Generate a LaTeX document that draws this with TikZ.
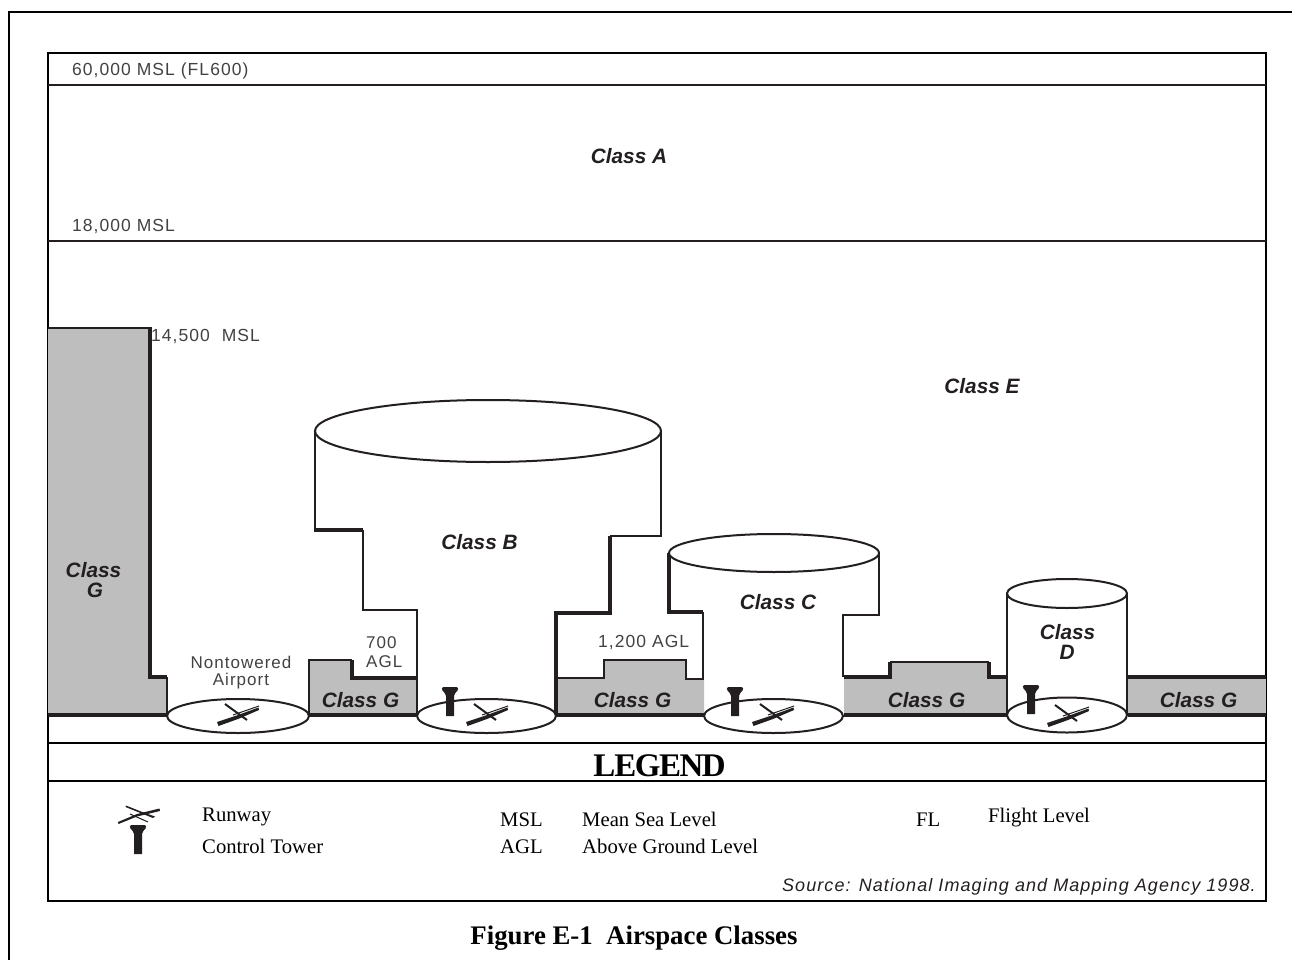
\documentclass[tikz,border=0pt]{standalone}
\usepackage{fontspec}
\setmainfont{Liberation Serif}
\newfontfamily\lab[LetterSpace=6]{Liberation Sans}
\newfontfamily\cls{Liberation Sans}
\newcommand{\fs}[1]{\fontsize{#1}{#1}\selectfont}
\definecolor{ink}{HTML}{231F20}
\definecolor{gfill}{HTML}{BEBEBE}
\tikzset{
  thin line/.style={draw=ink,line width=1.5pt},
  mid line/.style={draw=ink,line width=2pt,line join=miter},
  heavy line/.style={draw=ink,line width=3.4pt,line join=miter},
  ring/.style={draw=ink,line width=2pt,fill=white},
  frame line/.style={draw=black,line width=1.8pt},
  gzone/.style={fill=gfill},
  classlbl/.style={font=\cls\fs{20.8}\bfseries\itshape,text=ink,inner sep=0pt,align=center},
  alt/.style={font=\lab\fs{17.5},text=ink!85,inner sep=0pt,anchor=base west,align=center},
  smallalt/.style={alt,font=\lab\fs{17}},
  serif lbl/.style={font=\fs{20.7},text=black,inner sep=0pt,anchor=base west},
  pics/runway/.style={code={
    \fill[ink] (-21,6) -- (-19.5,10) -- (0,3) -- (21,-6) -- (20.5,-8.5) -- (0,-1) -- cycle;
    \draw[ink,line width=2pt] (-13,-12) -- (9,4);
    \draw[ink,line width=1pt] (-5,-1) -- (21,-10);
  }},
  pics/legendrunway/.style={code={
    \fill[ink] (-21,7) -- (-20.5,9) -- (-2,1.5) -- (21,-4) -- (20.5,-6.5) -- (-2,-1) -- cycle;
    \fill[ink] (-13,-9.5) -- (-13.5,-8) -- (14,3) -- (16,1.5) -- (2,-3.5) -- cycle;
    \draw[ink,line width=1pt] (-9,-1) -- (9,7);
  }},
  pics/tower/.style={code={
    \fill[ink] (-6.5,0) -- (6.5,0) .. controls (8.5,0) and (8.5,2) .. (7.5,3.5)
      .. controls (6,6) and (4.2,6) .. (4,9) -- (4,29) -- (-4,29) -- (-4,9)
      .. controls (-4.2,6) and (-6,6) .. (-7.5,3.5) .. controls (-8.5,2) and (-8.5,0) .. (-6.5,0) -- cycle;
  }}
}
\begin{document}
\begin{tikzpicture}[x=1pt,y=-1pt]
\useasboundingbox (0,0) rectangle (1292,960);
\fill[white] (0,0) rectangle (1292,960);
% outer frame
\draw[frame line] (9,960) -- (9,12) -- (1292,12);
% main box
\draw[frame line] (48,53) rectangle (1266,901);
\draw[thin line] (48,85) -- (1266,85);
\draw[thin line] (48,241) -- (1266,241);
\draw[frame line] (48,743) -- (1266,743);
\draw[frame line] (48,781) -- (1266,781);
% class G zones
\fill[gzone] (48,328) -- (150,328) -- (150,677) -- (167,677) -- (167,715) -- (48,715) -- cycle;
\fill[gzone] (309,660) -- (352,660) -- (352,678) -- (417,678) -- (417,715) -- (309,715) -- cycle;
\fill[gzone] (556,678) -- (604,678) -- (604,660) -- (686,660) -- (686,679) -- (704,679) -- (704,715) -- (556,715) -- cycle;
\fill[gzone] (844,677) -- (890,677) -- (890,662) -- (989,662) -- (989,677) -- (1007,677) -- (1007,715) -- (844,715) -- cycle;
\fill[gzone] (1128,677) -- (1266,677) -- (1266,715) -- (1128,715) -- cycle;
% Class G outlines
\draw[mid line] (48,328) -- (150,328);
\draw[heavy line] (150,327) -- (150,677) -- (167,677);
\draw[mid line] (167,677) -- (167,715);
\draw[mid line] (309,715) -- (309,660) -- (352,660);
\draw[heavy line] (352,660) -- (352,678) -- (417,678);
\draw[mid line] (556,678) -- (604,678) -- (604,660) -- (686,660) -- (686,679) -- (704,679);
\draw[heavy line] (844,677) -- (890,677) -- (890,662);
\draw[mid line] (890,662) -- (989,662);
\draw[heavy line] (989,662) -- (989,677) -- (1007,677);
\draw[heavy line] (1128,677) -- (1266,677);
% ground
\draw[heavy line] (48,715) -- (167,715);
\draw[heavy line] (309,715) -- (417,715);
\draw[heavy line] (556,715) -- (704,715);
\draw[heavy line] (844,715) -- (1007,715);
\draw[heavy line] (1128,715) -- (1266,715);
% Class B
\draw[mid line] (315,431) -- (315,530);
\draw[heavy line] (314,530) -- (363,530);
\draw[mid line] (363,530) -- (363,610) -- (417,610) -- (417,678);
\draw[mid line] (417,678) -- (417,715);
\draw[mid line] (661,431) -- (661,536) -- (610,536);
\draw[heavy line] (610,536) -- (610,613) -- (556,613) -- (556,715);
\draw[ring] (488,431) ellipse [x radius=173,y radius=31];
% Class C
\draw[heavy line] (669,553) -- (669,612) -- (703,612);
\draw[mid line] (703,612) -- (703,679);
\draw[mid line] (879,553) -- (879,615) -- (843,615) -- (843,677);
\draw[ring] (774,553) ellipse [x radius=105,y radius=19];
% Class D
\draw[mid line] (1007,593) -- (1007,715);
\draw[mid line] (1127,593) -- (1127,715);
\draw[ring] (1067,593.5) ellipse [x radius=60,y radius=14.5];
% airports
\draw[ring] (238,716) ellipse [x radius=71,y radius=17];
\draw[ring] (486.5,716) ellipse [x radius=69.5,y radius=17];
\draw[ring] (773.5,716) ellipse [x radius=69.5,y radius=17];
\draw[ring] (1067,715) ellipse [x radius=60,y radius=17.5];
\pic at (238,716) {runway};
\pic at (487,716) {runway};
\pic at (773,716) {runway};
\pic at (1068,717) {runway};
\pic at (139,815) {legendrunway};
\pic at (450,687) {tower};
\pic at (735,687) {tower};
\pic at (1031,685) {tower};
\pic at (138,825) {tower};
% labels
\node[alt] (l60) at (72,75.5) {60,000 MSL (FL600)};
\node[alt] (l18) at (72,231) {18,000 MSL};
\node[alt] (l14) at (151,341) {14,500\ \ MSL};
\node[smallalt] (l700) at (366,648) {700};
\node[smallalt] (lagl) at (366,667) {AGL};
\node[alt] (l12) at (598,647) {1,200 AGL};
\node[smallalt,anchor=base] (nt1) at (241,668) {Nontowered};
\node[smallalt,anchor=base] (nt2) at (241,685) {Airport};
\node[classlbl] (ca) at (629,156) {Class A};
\node[classlbl] (ce) at (982,386) {Class E};
\node[classlbl] (cb) at (479.5,542) {Class B};
\node[classlbl] (cc) at (778,602) {Class C};
\node[classlbl] (cd1) at (1067.5,632) {Class};
\node[classlbl] (cd2) at (1067,652) {D};
\node[classlbl] (cg1) at (93.5,570) {Class};
\node[classlbl] (cg2) at (95,590) {G};
\node[classlbl] (g2) at (360.5,700) {Class G};
\node[classlbl] (g3) at (632.5,700) {Class G};
\node[classlbl] (g4) at (926.5,700) {Class G};
\node[classlbl] (g5) at (1198.5,700) {Class G};
\node[inner sep=0pt,anchor=base,font=\fs{33}\bfseries] (leg) at (659.5,776) {L\kern-1ptE\kern-1.5ptG\kern-1.5ptE\kern-1.5ptN\kern-1.5ptD};
\node[serif lbl] (t1) at (202,821) {Runway};
\node[serif lbl] (t2) at (202,853) {Control Tower};
\node[serif lbl] (t3) at (500,826) {MSL};
\node[serif lbl] (t4) at (582,826) {Mean Sea Level};
\node[serif lbl] (t5) at (500,853) {AGL};
\node[serif lbl] (t6) at (582,853) {Above Ground Level};
\node[serif lbl] (t7) at (916,826) {FL};
\node[serif lbl] (t8) at (988,822) {Flight Level};
\node[inner sep=0pt,anchor=base east,font=\lab\fs{18}\itshape,text=ink] (src) at (1256,891) {Source: National Imaging and Mapping Agency 1998.};
\node[inner sep=0pt,anchor=base,font=\fs{26.8}\bfseries] (cap) at (634,944) {Figure E-1\ \ Airspace Classes};
\end{tikzpicture}
\end{document}
